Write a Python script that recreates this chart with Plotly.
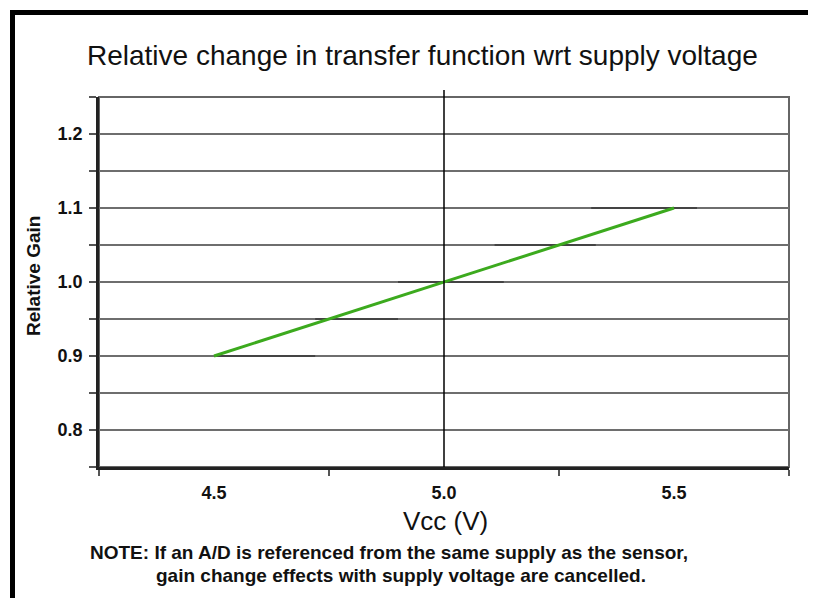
import plotly.graph_objects as go

# ---- data ----
vcc = [4.5, 4.75, 5.0, 5.25, 5.5]
rel_gain = [0.90, 0.95, 1.00, 1.05, 1.10]

# faint darker segments visible on gridlines
seg_y = [0.90, 0.95, 1.00, 1.05, 1.10]
seg_x0 = [4.50, 4.72, 4.90, 5.11, 5.32]
seg_x1 = [4.72, 4.90, 5.13, 5.33, 5.55]

x_label_vals = [4.5, 5.0, 5.5]
x_label_text = ["4.5", "5.0", "5.5"]
x_tick_vals = [4.25, 4.75, 5.25, 5.75]
y_grid_vals = [0.75, 0.80, 0.85, 0.90, 0.95, 1.00, 1.05, 1.10, 1.15, 1.20, 1.25]
y_grid_text = ["", "0.8", "", "0.9", "", "1.0", "", "1.1", "", "1.2", ""]

title_text = "Relative change in transfer function wrt supply voltage"
xtitle = "Vcc (V)"
ytitle = "Relative Gain"
note1 = "NOTE: If an A/D is referenced from the same supply as the sensor,"
note2 = "gain change effects with supply voltage are cancelled."

FONT = "Arial, Liberation Sans, sans-serif"

# page body has an 8px margin; figure sized so it ends at the window edge
OFF = 8
W, H = 808, 590
L, R, T, B = 91, 27, 89, 131
PW, PH = W - L - R, H - T - B

def px(xs):
    return (xs - OFF - L) / PW

def py(ys):
    return (H - B - (ys - OFF)) / PH

fig = go.Figure()

sx, sy = [], []
for a, b, y in zip(seg_x0, seg_x1, seg_y):
    sx += [a, b, None]
    sy += [y, y, None]
fig.add_trace(go.Scatter(x=sx, y=sy, mode="lines",
                         line=dict(color="#444444", width=2),
                         hoverinfo="skip", showlegend=False))

fig.add_trace(go.Scatter(x=vcc, y=rel_gain, mode="lines",
                         line=dict(color="#3caa1e", width=3),
                         showlegend=False))

fig.update_layout(
    width=W, height=H,
    margin=dict(l=L, r=R, t=T, b=B, pad=0),
    paper_bgcolor="white", plot_bgcolor="white",
    font=dict(family=FONT, color="black"),
    showlegend=False,
)

TICKFONT = dict(size=18, family=FONT, weight="bold", color="#111")

fig.update_xaxes(
    range=[4.25, 5.75],
    tickvals=x_label_vals, ticktext=x_label_text,
    ticks="", ticklabelstandoff=8,
    tickfont=TICKFONT,
    showgrid=False, zeroline=False,
    showline=True, linecolor="#222", linewidth=2.5,
    minor=dict(tickvals=x_tick_vals, ticks="outside", ticklen=6,
               tickcolor="#555", tickwidth=2, showgrid=False),
)
fig.update_yaxes(
    range=[0.75, 1.25],
    tickvals=y_grid_vals, ticktext=y_grid_text,
    ticks="outside", ticklen=7, tickcolor="#555", tickwidth=2,
    ticklabelstandoff=3,
    tickfont=TICKFONT,
    showgrid=True, gridcolor="#6e6e6e", gridwidth=2,
    zeroline=False,
    showline=True, linecolor="#222", linewidth=2.5,
)

# grey frame of plot area (top & right)
fig.add_shape(type="rect", xref="paper", yref="paper", x0=0, x1=1, y0=0, y1=1,
              line=dict(color="#666666", width=2), layer="below")

# vertical line at 5.0
fig.add_shape(type="line", xref="x", yref="paper", x0=5.0, x1=5.0,
              y0=0, y1=py(90), line=dict(color="black", width=1.5))

# outer black frame (left & top)
fig.add_shape(type="path", xref="paper", yref="paper",
              path=f"M {px(12.5)},{py(700)} L {px(12.5)},{py(12.5)} L {px(830)},{py(12.5)}",
              line=dict(color="black", width=5))

def note(xs, ys, text, size, bold=False, angle=0):
    f = dict(size=size, family=FONT, color="#111")
    if bold:
        f["weight"] = "bold"
    fig.add_annotation(x=px(xs), y=py(ys), xref="paper", yref="paper",
                       xanchor="center", yanchor="middle",
                       text=text, showarrow=False, textangle=angle, font=f)

note(422, 55, title_text, 28)
note(446, 521, xtitle, 26)
note(33, 276, ytitle, 19, bold=True, angle=-90)
note(389, 552, note1, 19, bold=True)
note(401, 575, note2, 19, bold=True)

fig.write_html("out.html")
